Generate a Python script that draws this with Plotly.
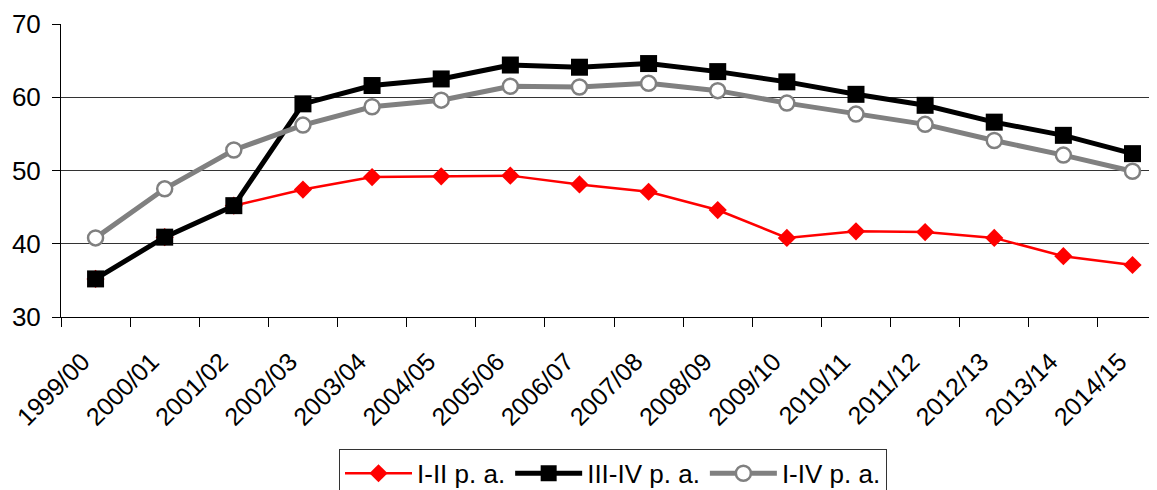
import plotly.graph_objects as go

# ── Data ────────────────────────────────────────────────────────────────────
seasons = [
    "1999/00", "2000/01", "2001/02", "2002/03", "2003/04", "2004/05",
    "2005/06", "2006/07", "2007/08", "2008/09", "2009/10", "2010/11",
    "2011/12", "2012/13", "2013/14", "2014/15",
]
i_ii = [35.2, 40.9, 45.2, 47.4, 49.1, 49.2, 49.3, 48.1, 47.1, 44.6,
        40.8, 41.7, 41.6, 40.8, 38.3, 37.1]
iii_iv = [35.2, 40.9, 45.2, 59.1, 61.6, 62.5, 64.4, 64.1, 64.6, 63.5,
          62.1, 60.4, 58.9, 56.6, 54.8, 52.3]
i_iv = [40.8, 47.5, 52.8, 56.2, 58.7, 59.6, 61.5, 61.4, 61.9, 60.9,
        59.2, 57.7, 56.3, 54.1, 52.1, 49.9]

FONT = "Liberation Sans, Arial, sans-serif"

fig = go.Figure()
fig.add_trace(go.Scatter(
    x=seasons, y=i_ii, name="I-II p. a.", mode="lines+markers",
    line=dict(color="#ff0000", width=2.5),
    marker=dict(symbol="diamond", size=14, color="#ff0000"),
))
fig.add_trace(go.Scatter(
    x=seasons, y=iii_iv, name="III-IV p. a.", mode="lines+markers",
    line=dict(color="#000000", width=5),
    marker=dict(symbol="square", size=17, color="#000000"),
))
fig.add_trace(go.Scatter(
    x=seasons, y=i_iv, name="I-IV p. a.", mode="lines+markers",
    line=dict(color="#808080", width=5),
    marker=dict(symbol="circle", size=15, color="#ffffff",
                line=dict(color="#808080", width=2.5)),
))

# the page body adds an 8px offset, so margins are 8px smaller than target
fig.update_layout(
    width=1157,
    height=490,
    margin=dict(l=53, r=0, t=16, b=181, autoexpand=False),
    paper_bgcolor="white",
    plot_bgcolor="white",
    font=dict(family=FONT, size=26, color="black"),
    showlegend=True,
    legend=dict(
        orientation="h", x=0.5, xanchor="center", y=-0.45, yanchor="top",
        bordercolor="#333333", borderwidth=1, font=dict(size=26),
        itemwidth=67, tracegroupgap=0,
    ),
)
fig.update_xaxes(
    type="category",
    range=[-0.5, 15.47],
    tickson="boundaries",
    ticks="outside", ticklen=9, tickcolor="black",
    showline=True, linecolor="black", linewidth=1,
    showgrid=False, tickangle=-45, automargin=False,
    ticklabelstandoff=19, ticklabelshift=-13,
    tickfont=dict(size=25),
)
fig.update_yaxes(
    range=[30, 70], dtick=10,
    ticks="outside", ticklen=8, tickcolor="black",
    showline=True, linecolor="black", linewidth=1,
    showgrid=True, gridcolor="#333333", gridwidth=1,
    zeroline=False, ticklabelstandoff=6, automargin=False,
    tickfont=dict(size=26),
)

fig.write_html("out.html")
